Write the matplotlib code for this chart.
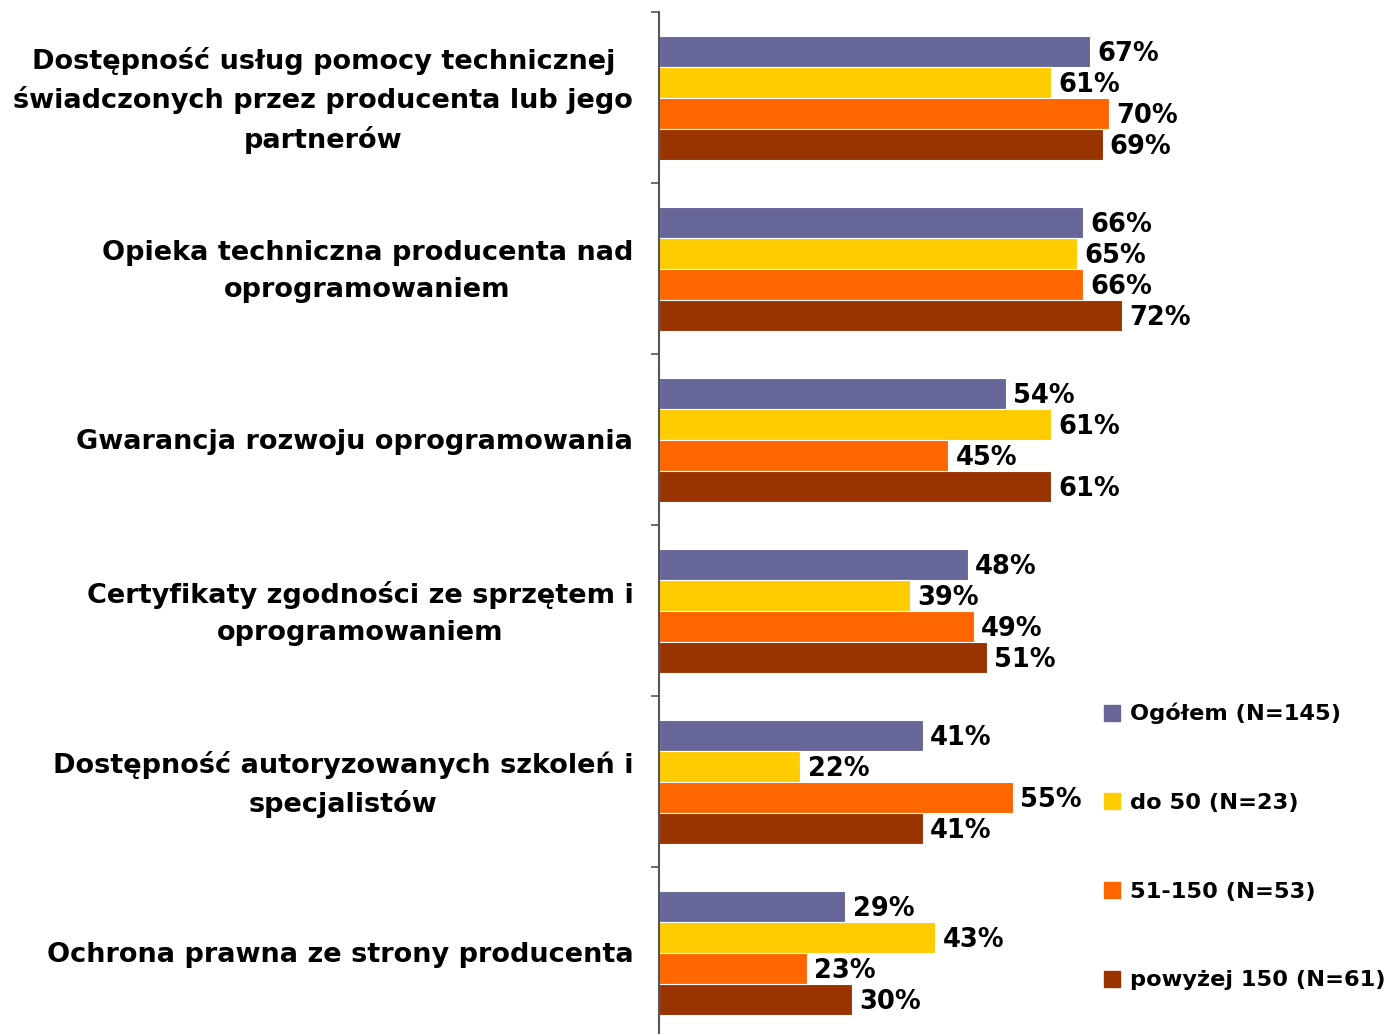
import matplotlib
matplotlib.use("Agg")
import matplotlib.pyplot as plt
from matplotlib.lines import Line2D
import numpy as np

categories = [
    "Dostępność usług pomocy technicznej\nświadczonych przez producenta lub jego\npartnerów",
    "Opieka techniczna producenta nad\noprogramowaniem",
    "Gwarancja rozwoju oprogramowania",
    "Certyfikaty zgodności ze sprzętem i\noprogramowaniem",
    "Dostępność autoryzowanych szkoleń i\nspecjalistów",
    "Ochrona prawna ze strony producenta",
]
series_names = ["Ogółem (N=145)", "do 50 (N=23)", "51-150 (N=53)", "powyżej 150 (N=61)"]
ogolem = [67, 66, 54, 48, 41, 29]
do50 = [61, 65, 61, 39, 22, 43]
s51_150 = [70, 66, 45, 49, 55, 23]
pow150 = [69, 72, 61, 51, 41, 30]
colors = ["#666699", "#FFCC00", "#FF6600", "#993300"]

plt.rcParams["font.family"] = ["DejaVu Sans"]

fig = plt.figure(figsize=(13.88, 10.34), dpi=100)
ax = fig.add_axes([659 / 1388, -4 / 1034, 643 / 1388, 1026 / 1034])

y = np.arange(len(categories))
h = 31 / 171
for j, (vals, col) in enumerate(zip([ogolem, do50, s51_150, pow150], colors)):
    pos = y + (j - 1.5) * h
    ax.barh(pos, vals, height=h, color=col, edgecolor="white", linewidth=0.8)
    for p, v in zip(pos, vals):
        ax.text(v + 1.1, p + 0.018, f"{v}%", va="center", ha="left",
                fontsize=18.5, fontweight="bold", color="black")

ax.set_xlim(0, 100)
ax.set_ylim(len(categories) - 0.5, -0.5)
ax.set_yticks(np.arange(len(categories) + 1) - 0.5)
ax.set_yticklabels([])
ax.tick_params(axis="y", direction="out", length=6, width=1.2, color="#555555")
ax.set_xticks([])
for s in ["top", "right", "bottom"]:
    ax.spines[s].set_visible(False)
ax.spines["left"].set_color("#555555")
ax.spines["left"].set_linewidth(1.5)

for i, cat in enumerate(categories):
    ax.text(-0.04, i + 0.017, cat, transform=ax.get_yaxis_transform(), ha="right",
            va="center", multialignment="center", fontsize=19.5,
            fontweight="bold", linespacing=1.52)

handles = [Line2D([], [], marker="s", linestyle="none", markersize=11,
                  markerfacecolor=c, markeredgecolor=c) for c in colors]
fig.legend(handles, series_names, loc="upper left",
           bbox_to_anchor=(1094 / 1388, 1 - 694 / 1034), frameon=False,
           prop={"size": 16.2, "weight": "bold"}, labelspacing=3.05,
           handletextpad=0.4, handlelength=0.8, borderaxespad=0)

fig.savefig("out.png", dpi=100)
